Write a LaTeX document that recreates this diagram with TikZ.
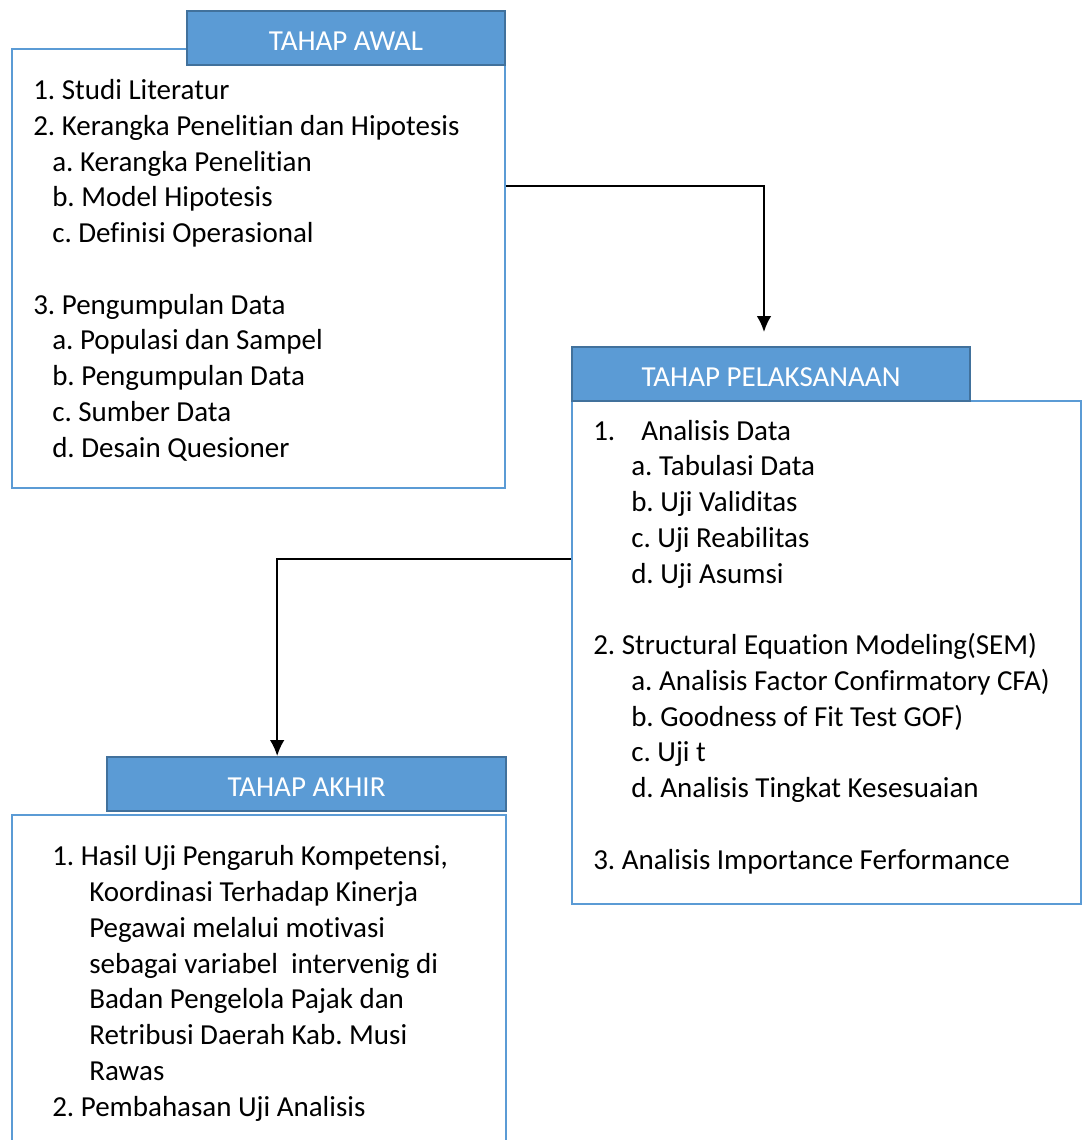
\documentclass[tikz,border=0pt]{standalone}
\usepackage{fontspec}
\setmainfont{Carlito}[Ligatures=NoCommon]
\usetikzlibrary{arrows.meta, positioning, fit}
\frenchspacing

\definecolor{boxblue}{HTML}{5B9BD5}
\definecolor{boxedge}{HTML}{41719C}

\begin{document}
\begin{tikzpicture}[
  x=0.75pt, y=-0.75pt,
  >=Latex,
  every node/.style = {font=\fontsize{21.75}{26.8}\selectfont},
  body/.style = {draw=boxblue, line width=1.5pt, inner sep=0pt},
  head/.style = {draw=boxedge, fill=boxblue, line width=1.5pt, inner sep=0pt},
  title/.style = {text=white, yshift=-2.25pt},
  list/.style = {align=left, inner sep=0pt, anchor=base west},
  conn/.style = {->, line width=1.4pt, >={Latex[length=12pt, width=11pt]}},
]
  \clip (0,0) rectangle (1083,1140);

  % Boxes and headers
  \node[body, fit={(12,49) (505,488)}]    (awal)    {};
  \node[head, fit={(187,11) (505,65)}, label={[title]center:TAHAP AWAL}]   (awalhd)  {};
  \node[body, fit={(572,401) (1081,904)}] (pel)     {};
  \node[head, fit={(572,347) (970,401)}, label={[title]center:TAHAP PELAKSANAAN}] (pelhd) {};
  \node[body, fit={(12,815) (506,1160)}]  (akhir)   {};
  \node[head, fit={(107,757) (506,811)}, label={[title]center:TAHAP AKHIR}] (akhirhd) {};

  % Contents (base = baseline of the last line)
  \node[list] (awaltxt) at (33,457) {1. Studi Literatur\\
    2. Kerangka Penelitian dan Hipotesis\\
    \hspace*{14.25pt}a. Kerangka Penelitian\\
    \hspace*{14.25pt}b. Model Hipotesis\\
    \hspace*{14.25pt}c. Definisi Operasional\\[26.8pt]
    3. Pengumpulan Data\\
    \hspace*{14.25pt}a. Populasi dan Sampel\\
    \hspace*{14.25pt}b. Pengumpulan Data\\
    \hspace*{14.25pt}c. Sumber Data\\
    \hspace*{14.25pt}d. Desain Quesioner};

  \node[list] (peltxt) at (593,869) {1.\hspace{19.5pt}Analisis Data\\
    \hspace*{28.5pt}a. Tabulasi Data\\
    \hspace*{28.5pt}b. Uji Validitas\\
    \hspace*{28.5pt}c. Uji Reabilitas\\
    \hspace*{28.5pt}d. Uji Asumsi\\[26.8pt]
    2. Structural Equation Modeling(SEM)\\
    \hspace*{28.5pt}a. Analisis Factor Confirmatory CFA)\\
    \hspace*{28.5pt}b. Goodness of Fit Test GOF)\\
    \hspace*{28.5pt}c. Uji t\\
    \hspace*{28.5pt}d. Analisis Tingkat Kesesuaian\\[26.8pt]
    3. Analisis Importance Ferformance};

  \node[list] (akhirtxt) at (52,1116) {1. Hasil Uji Pengaruh Kompetensi,\\
    \hspace*{27.75pt}Koordinasi Terhadap Kinerja\\
    \hspace*{27.75pt}Pegawai melalui motivasi\\
    \hspace*{27.75pt}sebagai variabel\ \ intervenig di\\
    \hspace*{27.75pt}Badan Pengelola Pajak dan\\
    \hspace*{27.75pt}Retribusi Daerah Kab. Musi\\
    \hspace*{27.75pt}Rawas\\
    2. Pembahasan Uji Analisis};

  % Connectors
  \draw[conn, shorten >=10.5pt] (awal.east |- 0,186) -| ([xshift=-5.25pt]pelhd.north);
  \draw[conn] (pel.west |- 0,559) -| ([xshift=-22pt]akhirhd.north);
\end{tikzpicture}
\end{document}
